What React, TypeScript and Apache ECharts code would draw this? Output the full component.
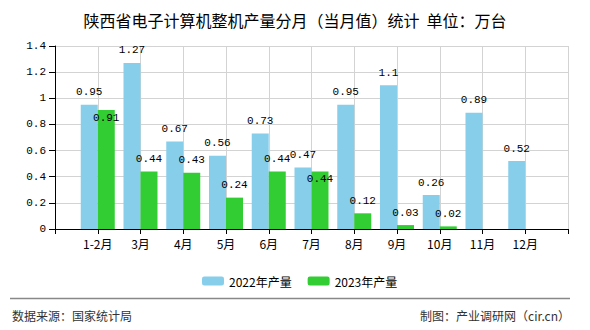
import React, { useEffect, useRef } from "react";
import * as echarts from "echarts";

const months = ["1-2月", "3月", "4月", "5月", "6月", "7月", "8月", "9月", "10月", "11月", "12月"];
const values2022 = [0.95, 1.27, 0.67, 0.56, 0.73, 0.47, 0.95, 1.1, 0.26, 0.89, 0.52];
const values2023: (number | null)[] = [0.91, 0.44, 0.43, 0.24, 0.44, 0.44, 0.12, 0.03, 0.02, null, null];
const yTicks = [0, 0.2, 0.4, 0.6, 0.8, 1, 1.2, 1.4];
const seriesNames = ["2022年产量", "2023年产量"];
const titleText = "陕西省电子计算机整机产量分月（当月值）统计  单位：万台";
const sourceText = "数据来源：国家统计局";
const makerText = "制图：产业调研网（cir.cn）";
// indices of 2023 labels that sit inside the bar top in the reference
const insideLabelIdx = [0, 5];

export default function App() {
  const ref = useRef<HTMLDivElement>(null);
  useEffect(() => {
    if (!ref.current) return;
    const chart = echarts.init(ref.current, null, { renderer: "svg" });
    const cats = ["", ...months, ""];
    const d22 = ["-", ...values2022, "-"];
    const d23 = [
      "-",
      ...values2023.map((v, i) =>
        v == null
          ? "-"
          : insideLabelIdx.includes(i)
          ? { value: v, label: { position: "insideTop", distance: 2 } }
          : v
      ),
      "-",
    ];
    const mono = "'Liberation Mono', 'DejaVu Sans Mono', monospace";
    const sans = "'Noto Sans CJK SC', 'Noto Sans', sans-serif";
    chart.setOption({
      animation: false,
      backgroundColor: "#ffffff",
      title: {
        text: titleText,
        left: "center",
        top: 7,
        textStyle: { fontSize: 16, fontWeight: "normal", color: "#000", fontFamily: sans },
      },
      legend: {
        data: seriesNames,
        left: 197,
        top: 270,
        itemWidth: 22,
        itemHeight: 9,
        itemGap: 16,
        textStyle: { fontSize: 12, color: "#000", fontFamily: sans },
      },
      grid: { left: 55, right: 22, top: 46, bottom: 101, containLabel: false },
      xAxis: {
        type: "category",
        data: cats,
        boundaryGap: false,
        axisLine: { lineStyle: { color: "#000", width: 1 } },
        axisTick: { show: true, length: 5, lineStyle: { color: "#000" } },
        axisLabel: { color: "#000", fontSize: 12, margin: 8, fontFamily: sans, interval: 0 },
        splitLine: { show: true, lineStyle: { color: "#d3d3d3", width: 1 } },
      },
      yAxis: {
        type: "value",
        min: yTicks[0],
        max: yTicks[yTicks.length - 1],
        interval: 0.2,
        axisLine: { show: true, lineStyle: { color: "#000", width: 1 } },
        axisTick: { show: true, length: 6, lineStyle: { color: "#000" } },
        axisLabel: { color: "#000", fontSize: 11, margin: 9, fontFamily: mono },
        splitLine: { show: true, lineStyle: { color: "#d3d3d3", width: 1 } },
      },
      series: [
        {
          name: seriesNames[0],
          type: "bar",
          data: d22,
          barWidth: 17,
          barGap: "0%",
          itemStyle: { color: "#87ceeb" },
          label: {
            show: true,
            position: "top",
            distance: 7,
            color: "#000",
            fontSize: 11,
            fontFamily: mono,
          },
        },
        {
          name: seriesNames[1],
          type: "bar",
          data: d23,
          barWidth: 17,
          barGap: "0%",
          itemStyle: { color: "#32cd32" },
          label: {
            show: true,
            position: "top",
            distance: 7,
            color: "#000",
            fontSize: 11,
            fontFamily: mono,
          },
        },
      ],
      graphic: [
        {
          type: "line",
          shape: { x1: 10, y1: 298.5, x2: 570, y2: 298.5 },
          style: { stroke: "#888", lineWidth: 1.5 },
        },
        {
          type: "text",
          left: 12,
          top: 309,
          style: { text: sourceText, fontSize: 12, fill: "#333", fontFamily: sans },
        },
        {
          type: "text",
          right: 20,
          top: 309,
          style: { text: makerText, fontSize: 12, fill: "#333", fontFamily: sans },
        },
      ],
    });
    return () => chart.dispose();
  }, []);
  return (
    <div
      ref={ref}
      style={{ position: "absolute", left: 0, top: 0, width: 590, height: 330 }}
    />
  );
}
